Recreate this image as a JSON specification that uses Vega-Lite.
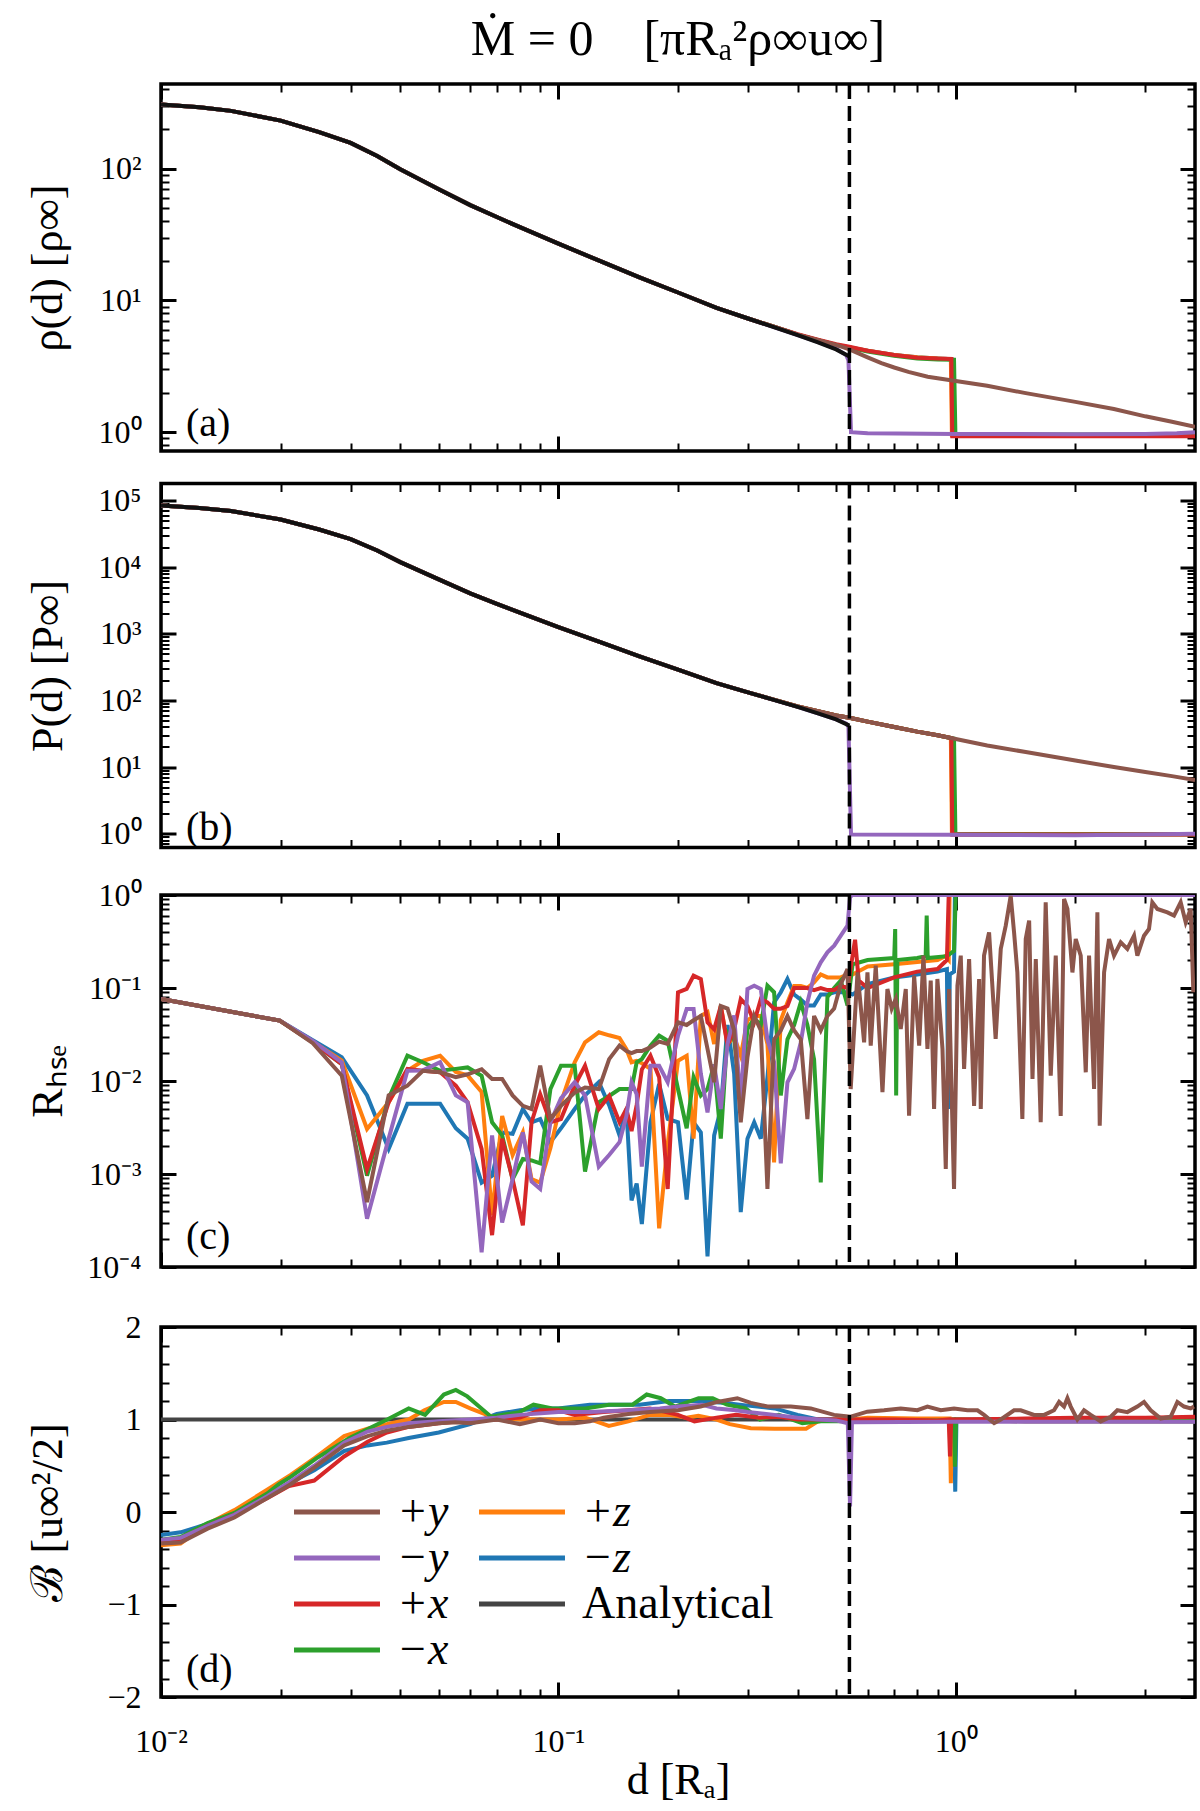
{
"$schema":"https://vega.github.io/schema/vega-lite/v6.json",
"padding":{"left":24,"top":13,"right":0,"bottom":0},
"config":{"font":"Liberation Serif","view":{"stroke":"black","strokeWidth":3.5},
"axis":{"grid":false,"domain":false,"tickColor":"black","labelColor":"black","titleColor":"black","labelFontSize":32,"titleFontSize":44,"titleFontWeight":"normal","labelFlush":false,"labelOverlap":false,"labelFont":"Liberation Serif","titleFont":"Liberation Serif"},
"title":{"font":"Liberation Serif","fontWeight":"normal","color":"black"},
"legend":{"labelFont":"Liberation Serif"}},
"datasets":{
"A":[
{"s":"−z","d":0.01,"v":307},{"s":"−z","d":0.0125,"v":293},{"s":"−z","d":0.015,"v":275},{"s":"−z","d":0.02,"v":232},{"s":"−z","d":0.025,"v":190},{"s":"−z","d":0.03,"v":157},{"s":"−z","d":0.035,"v":125},{"s":"−z","d":0.04,"v":99},{"s":"−z","d":0.05,"v":70},{"s":"−z","d":0.06,"v":53},{"s":"−z","d":0.07,"v":43},{"s":"−z","d":0.08,"v":36},{"s":"−z","d":0.1,"v":27},{"s":"−z","d":0.128,"v":19.8},{"s":"−z","d":0.16,"v":15},{"s":"−z","d":0.2,"v":11.5},{"s":"−z","d":0.25,"v":8.8},{"s":"−z","d":0.3,"v":7.3},{"s":"−z","d":0.35,"v":6.3},{"s":"−z","d":0.4,"v":5.5},
{"s":"−z","d":0.45,"v":5.0},{"s":"−z","d":0.5,"v":4.6},{"s":"−z","d":0.54,"v":4.4},{"s":"−z","d":0.6,"v":4.15},{"s":"−z","d":0.7,"v":3.85},{"s":"−z","d":0.8,"v":3.7},{"s":"−z","d":0.9,"v":3.62},{"s":"−z","d":0.975,"v":3.58},{"s":"−z","d":0.985,"v":0.95},{"s":"−z","d":2,"v":0.95},{"s":"−z","d":4,"v":0.95},
{"s":"+z","d":0.01,"v":307},{"s":"+z","d":0.0125,"v":293},{"s":"+z","d":0.015,"v":275},{"s":"+z","d":0.02,"v":232},{"s":"+z","d":0.025,"v":190},{"s":"+z","d":0.03,"v":157},{"s":"+z","d":0.035,"v":125},{"s":"+z","d":0.04,"v":99},{"s":"+z","d":0.05,"v":70},{"s":"+z","d":0.06,"v":53},{"s":"+z","d":0.07,"v":43},{"s":"+z","d":0.08,"v":36},{"s":"+z","d":0.1,"v":27},{"s":"+z","d":0.128,"v":19.8},{"s":"+z","d":0.16,"v":15},{"s":"+z","d":0.2,"v":11.5},{"s":"+z","d":0.25,"v":8.8},{"s":"+z","d":0.3,"v":7.3},{"s":"+z","d":0.35,"v":6.3},{"s":"+z","d":0.4,"v":5.5},
{"s":"+z","d":0.45,"v":5.0},{"s":"+z","d":0.5,"v":4.6},{"s":"+z","d":0.54,"v":4.4},{"s":"+z","d":0.6,"v":4.15},{"s":"+z","d":0.7,"v":3.85},{"s":"+z","d":0.8,"v":3.7},{"s":"+z","d":0.9,"v":3.62},{"s":"+z","d":0.972,"v":3.58},{"s":"+z","d":0.978,"v":0.95},{"s":"+z","d":2,"v":0.95},{"s":"+z","d":4,"v":0.95},
{"s":"−x","d":0.01,"v":307},{"s":"−x","d":0.0125,"v":293},{"s":"−x","d":0.015,"v":275},{"s":"−x","d":0.02,"v":232},{"s":"−x","d":0.025,"v":190},{"s":"−x","d":0.03,"v":157},{"s":"−x","d":0.035,"v":125},{"s":"−x","d":0.04,"v":99},{"s":"−x","d":0.05,"v":70},{"s":"−x","d":0.06,"v":53},{"s":"−x","d":0.07,"v":43},{"s":"−x","d":0.08,"v":36},{"s":"−x","d":0.1,"v":27},{"s":"−x","d":0.128,"v":19.8},{"s":"−x","d":0.16,"v":15},{"s":"−x","d":0.2,"v":11.5},{"s":"−x","d":0.25,"v":8.8},{"s":"−x","d":0.3,"v":7.3},{"s":"−x","d":0.35,"v":6.3},{"s":"−x","d":0.4,"v":5.5},
{"s":"−x","d":0.45,"v":5.0},{"s":"−x","d":0.5,"v":4.6},{"s":"−x","d":0.54,"v":4.4},{"s":"−x","d":0.6,"v":4.1},{"s":"−x","d":0.7,"v":3.8},{"s":"−x","d":0.8,"v":3.62},{"s":"−x","d":0.9,"v":3.57},{"s":"−x","d":0.99,"v":3.55},{"s":"−x","d":0.998,"v":0.96},{"s":"−x","d":2,"v":0.96},{"s":"−x","d":4,"v":0.96},
{"s":"+x","d":0.01,"v":307},{"s":"+x","d":0.0125,"v":293},{"s":"+x","d":0.015,"v":275},{"s":"+x","d":0.02,"v":232},{"s":"+x","d":0.025,"v":190},{"s":"+x","d":0.03,"v":157},{"s":"+x","d":0.035,"v":125},{"s":"+x","d":0.04,"v":99},{"s":"+x","d":0.05,"v":70},{"s":"+x","d":0.06,"v":53},{"s":"+x","d":0.07,"v":43},{"s":"+x","d":0.08,"v":36},{"s":"+x","d":0.1,"v":27},{"s":"+x","d":0.128,"v":19.8},{"s":"+x","d":0.16,"v":15},{"s":"+x","d":0.2,"v":11.5},{"s":"+x","d":0.25,"v":8.8},{"s":"+x","d":0.3,"v":7.3},{"s":"+x","d":0.35,"v":6.3},{"s":"+x","d":0.4,"v":5.55},
{"s":"+x","d":0.45,"v":5.05},{"s":"+x","d":0.5,"v":4.65},{"s":"+x","d":0.54,"v":4.45},{"s":"+x","d":0.6,"v":4.15},{"s":"+x","d":0.7,"v":3.85},{"s":"+x","d":0.8,"v":3.68},{"s":"+x","d":0.9,"v":3.62},{"s":"+x","d":0.975,"v":3.6},{"s":"+x","d":0.98,"v":0.93},{"s":"+x","d":2,"v":0.93},{"s":"+x","d":4,"v":0.93},
{"s":"−y","d":0.01,"v":307},{"s":"−y","d":0.0125,"v":293},{"s":"−y","d":0.015,"v":275},{"s":"−y","d":0.02,"v":232},{"s":"−y","d":0.025,"v":190},{"s":"−y","d":0.03,"v":157},{"s":"−y","d":0.035,"v":125},{"s":"−y","d":0.04,"v":99},{"s":"−y","d":0.05,"v":70},{"s":"−y","d":0.06,"v":53},{"s":"−y","d":0.07,"v":43},{"s":"−y","d":0.08,"v":36},{"s":"−y","d":0.1,"v":27},{"s":"−y","d":0.128,"v":19.8},{"s":"−y","d":0.16,"v":15},{"s":"−y","d":0.2,"v":11.5},{"s":"−y","d":0.25,"v":8.8},{"s":"−y","d":0.3,"v":7.3},{"s":"−y","d":0.35,"v":6.25},{"s":"−y","d":0.4,"v":5.45},
{"s":"−y","d":0.45,"v":4.85},{"s":"−y","d":0.5,"v":4.3},{"s":"−y","d":0.53,"v":3.85},{"s":"−y","d":0.537,"v":3.5},{"s":"−y","d":0.545,"v":1.0},{"s":"−y","d":0.6,"v":0.98},{"s":"−y","d":1,"v":0.97},{"s":"−y","d":2,"v":0.965},{"s":"−y","d":3,"v":0.97},{"s":"−y","d":3.6,"v":0.98},{"s":"−y","d":4,"v":1.0},
{"s":"+y","d":0.01,"v":307},{"s":"+y","d":0.0125,"v":293},{"s":"+y","d":0.015,"v":275},{"s":"+y","d":0.02,"v":232},{"s":"+y","d":0.025,"v":190},{"s":"+y","d":0.03,"v":157},{"s":"+y","d":0.035,"v":125},{"s":"+y","d":0.04,"v":99},{"s":"+y","d":0.05,"v":70},{"s":"+y","d":0.06,"v":53},{"s":"+y","d":0.07,"v":43},{"s":"+y","d":0.08,"v":36},{"s":"+y","d":0.1,"v":27},{"s":"+y","d":0.128,"v":19.8},{"s":"+y","d":0.16,"v":15},{"s":"+y","d":0.2,"v":11.5},{"s":"+y","d":0.25,"v":8.8},{"s":"+y","d":0.3,"v":7.3},{"s":"+y","d":0.35,"v":6.3},{"s":"+y","d":0.4,"v":5.5},
{"s":"+y","d":0.45,"v":5.0},{"s":"+y","d":0.5,"v":4.6},{"s":"+y","d":0.54,"v":4.25},{"s":"+y","d":0.6,"v":3.7},{"s":"+y","d":0.65,"v":3.35},{"s":"+y","d":0.7,"v":3.1},{"s":"+y","d":0.76,"v":2.87},{"s":"+y","d":0.85,"v":2.64},{"s":"+y","d":1.0,"v":2.45},{"s":"+y","d":1.2,"v":2.25},{"s":"+y","d":1.5,"v":1.98},{"s":"+y","d":2.0,"v":1.7},{"s":"+y","d":2.5,"v":1.5},{"s":"+y","d":3.0,"v":1.32},{"s":"+y","d":3.5,"v":1.2},{"s":"+y","d":4.0,"v":1.1},
{"s":"Analytical","d":0.01,"v":307},{"s":"Analytical","d":0.0125,"v":293},{"s":"Analytical","d":0.015,"v":275},{"s":"Analytical","d":0.02,"v":232},{"s":"Analytical","d":0.025,"v":190},{"s":"Analytical","d":0.03,"v":157},{"s":"Analytical","d":0.035,"v":125},{"s":"Analytical","d":0.04,"v":99},{"s":"Analytical","d":0.05,"v":70},{"s":"Analytical","d":0.06,"v":53},{"s":"Analytical","d":0.07,"v":43},{"s":"Analytical","d":0.08,"v":36},{"s":"Analytical","d":0.1,"v":27},{"s":"Analytical","d":0.128,"v":19.8},{"s":"Analytical","d":0.16,"v":15},{"s":"Analytical","d":0.2,"v":11.5},{"s":"Analytical","d":0.25,"v":8.8},{"s":"Analytical","d":0.3,"v":7.3},{"s":"Analytical","d":0.35,"v":6.25},{"s":"Analytical","d":0.4,"v":5.45},{"s":"Analytical","d":0.45,"v":4.8},{"s":"Analytical","d":0.5,"v":4.25},{"s":"Analytical","d":0.54,"v":3.75}
],
"B":[
{"s":"−z","d":0.01,"v":84000},{"s":"−z","d":0.0125,"v":77500},{"s":"−z","d":0.015,"v":69500},{"s":"−z","d":0.02,"v":51800},{"s":"−z","d":0.025,"v":36700},{"s":"−z","d":0.03,"v":26400},{"s":"−z","d":0.035,"v":17800},{"s":"−z","d":0.04,"v":11900},{"s":"−z","d":0.05,"v":6540},{"s":"−z","d":0.06,"v":4050},{"s":"−z","d":0.07,"v":2820},{"s":"−z","d":0.08,"v":2080},{"s":"−z","d":0.1,"v":1263},{"s":"−z","d":0.128,"v":740},{"s":"−z","d":0.16,"v":458},{"s":"−z","d":0.2,"v":289},{"s":"−z","d":0.25,"v":182},{"s":"−z","d":0.3,"v":132},{"s":"−z","d":0.35,"v":102},{"s":"−z","d":0.4,"v":81},
{"s":"−z","d":0.45,"v":68.6},{"s":"−z","d":0.5,"v":59.5},{"s":"−z","d":0.54,"v":55},{"s":"−z","d":0.6,"v":48},{"s":"−z","d":0.7,"v":40},{"s":"−z","d":0.8,"v":34},{"s":"−z","d":0.9,"v":30},{"s":"−z","d":0.975,"v":27.2},{"s":"−z","d":0.985,"v":0.98},{"s":"−z","d":4,"v":0.98},
{"s":"+z","d":0.01,"v":84000},{"s":"+z","d":0.0125,"v":77500},{"s":"+z","d":0.015,"v":69500},{"s":"+z","d":0.02,"v":51800},{"s":"+z","d":0.025,"v":36700},{"s":"+z","d":0.03,"v":26400},{"s":"+z","d":0.035,"v":17800},{"s":"+z","d":0.04,"v":11900},{"s":"+z","d":0.05,"v":6540},{"s":"+z","d":0.06,"v":4050},{"s":"+z","d":0.07,"v":2820},{"s":"+z","d":0.08,"v":2080},{"s":"+z","d":0.1,"v":1263},{"s":"+z","d":0.128,"v":740},{"s":"+z","d":0.16,"v":458},{"s":"+z","d":0.2,"v":289},{"s":"+z","d":0.25,"v":182},{"s":"+z","d":0.3,"v":132},{"s":"+z","d":0.35,"v":102},{"s":"+z","d":0.4,"v":81},
{"s":"+z","d":0.45,"v":68.6},{"s":"+z","d":0.5,"v":59.5},{"s":"+z","d":0.54,"v":55},{"s":"+z","d":0.6,"v":48},{"s":"+z","d":0.7,"v":40},{"s":"+z","d":0.8,"v":34},{"s":"+z","d":0.9,"v":30},{"s":"+z","d":0.972,"v":27.3},{"s":"+z","d":0.978,"v":0.98},{"s":"+z","d":4,"v":0.98},
{"s":"−x","d":0.01,"v":84000},{"s":"−x","d":0.0125,"v":77500},{"s":"−x","d":0.015,"v":69500},{"s":"−x","d":0.02,"v":51800},{"s":"−x","d":0.025,"v":36700},{"s":"−x","d":0.03,"v":26400},{"s":"−x","d":0.035,"v":17800},{"s":"−x","d":0.04,"v":11900},{"s":"−x","d":0.05,"v":6540},{"s":"−x","d":0.06,"v":4050},{"s":"−x","d":0.07,"v":2820},{"s":"−x","d":0.08,"v":2080},{"s":"−x","d":0.1,"v":1263},{"s":"−x","d":0.128,"v":740},{"s":"−x","d":0.16,"v":458},{"s":"−x","d":0.2,"v":289},{"s":"−x","d":0.25,"v":182},{"s":"−x","d":0.3,"v":132},{"s":"−x","d":0.35,"v":102},{"s":"−x","d":0.4,"v":81},
{"s":"−x","d":0.45,"v":68.6},{"s":"−x","d":0.5,"v":59.5},{"s":"−x","d":0.54,"v":55},{"s":"−x","d":0.6,"v":48},{"s":"−x","d":0.7,"v":40},{"s":"−x","d":0.8,"v":34},{"s":"−x","d":0.9,"v":30},{"s":"−x","d":0.99,"v":26.6},{"s":"−x","d":0.998,"v":0.98},{"s":"−x","d":4,"v":0.98},
{"s":"+x","d":0.01,"v":84000},{"s":"+x","d":0.0125,"v":77500},{"s":"+x","d":0.015,"v":69500},{"s":"+x","d":0.02,"v":51800},{"s":"+x","d":0.025,"v":36700},{"s":"+x","d":0.03,"v":26400},{"s":"+x","d":0.035,"v":17800},{"s":"+x","d":0.04,"v":11900},{"s":"+x","d":0.05,"v":6540},{"s":"+x","d":0.06,"v":4050},{"s":"+x","d":0.07,"v":2820},{"s":"+x","d":0.08,"v":2080},{"s":"+x","d":0.1,"v":1263},{"s":"+x","d":0.128,"v":740},{"s":"+x","d":0.16,"v":458},{"s":"+x","d":0.2,"v":289},{"s":"+x","d":0.25,"v":182},{"s":"+x","d":0.3,"v":132},{"s":"+x","d":0.35,"v":102},{"s":"+x","d":0.4,"v":81},
{"s":"+x","d":0.45,"v":68.6},{"s":"+x","d":0.5,"v":59.5},{"s":"+x","d":0.54,"v":55},{"s":"+x","d":0.6,"v":48},{"s":"+x","d":0.7,"v":40},{"s":"+x","d":0.8,"v":34},{"s":"+x","d":0.9,"v":30},{"s":"+x","d":0.975,"v":27.2},{"s":"+x","d":0.98,"v":0.97},{"s":"+x","d":4,"v":0.97},
{"s":"−y","d":0.01,"v":84000},{"s":"−y","d":0.0125,"v":77500},{"s":"−y","d":0.015,"v":69500},{"s":"−y","d":0.02,"v":51800},{"s":"−y","d":0.025,"v":36700},{"s":"−y","d":0.03,"v":26400},{"s":"−y","d":0.035,"v":17800},{"s":"−y","d":0.04,"v":11900},{"s":"−y","d":0.05,"v":6540},{"s":"−y","d":0.06,"v":4050},{"s":"−y","d":0.07,"v":2820},{"s":"−y","d":0.08,"v":2080},{"s":"−y","d":0.1,"v":1263},{"s":"−y","d":0.128,"v":740},{"s":"−y","d":0.16,"v":458},{"s":"−y","d":0.2,"v":289},{"s":"−y","d":0.25,"v":182},{"s":"−y","d":0.3,"v":132},{"s":"−y","d":0.35,"v":101},{"s":"−y","d":0.4,"v":80},
{"s":"−y","d":0.45,"v":64},{"s":"−y","d":0.5,"v":52},{"s":"−y","d":0.53,"v":45},{"s":"−y","d":0.537,"v":40},{"s":"−y","d":0.545,"v":0.97},{"s":"−y","d":1,"v":0.96},{"s":"−y","d":2,"v":0.95},{"s":"−y","d":3,"v":0.97},{"s":"−y","d":4,"v":1.0},
{"s":"+y","d":0.01,"v":84000},{"s":"+y","d":0.0125,"v":77500},{"s":"+y","d":0.015,"v":69500},{"s":"+y","d":0.02,"v":51800},{"s":"+y","d":0.025,"v":36700},{"s":"+y","d":0.03,"v":26400},{"s":"+y","d":0.035,"v":17800},{"s":"+y","d":0.04,"v":11900},{"s":"+y","d":0.05,"v":6540},{"s":"+y","d":0.06,"v":4050},{"s":"+y","d":0.07,"v":2820},{"s":"+y","d":0.08,"v":2080},{"s":"+y","d":0.1,"v":1263},{"s":"+y","d":0.128,"v":740},{"s":"+y","d":0.16,"v":458},{"s":"+y","d":0.2,"v":289},{"s":"+y","d":0.25,"v":182},{"s":"+y","d":0.3,"v":132},{"s":"+y","d":0.35,"v":102},{"s":"+y","d":0.4,"v":81},
{"s":"+y","d":0.45,"v":68.6},{"s":"+y","d":0.5,"v":59.5},{"s":"+y","d":0.54,"v":55},{"s":"+y","d":0.6,"v":48},{"s":"+y","d":0.7,"v":40},{"s":"+y","d":0.8,"v":34},{"s":"+y","d":0.9,"v":30},{"s":"+y","d":1.0,"v":26.3},{"s":"+y","d":1.2,"v":21},{"s":"+y","d":1.5,"v":16.8},{"s":"+y","d":2,"v":12.5},{"s":"+y","d":2.5,"v":10},{"s":"+y","d":3,"v":8.4},{"s":"+y","d":3.5,"v":7.3},{"s":"+y","d":4,"v":6.4},
{"s":"Analytical","d":0.01,"v":84000},{"s":"Analytical","d":0.0125,"v":77500},{"s":"Analytical","d":0.015,"v":69500},{"s":"Analytical","d":0.02,"v":51800},{"s":"Analytical","d":0.025,"v":36700},{"s":"Analytical","d":0.03,"v":26400},{"s":"Analytical","d":0.035,"v":17800},{"s":"Analytical","d":0.04,"v":11900},{"s":"Analytical","d":0.05,"v":6540},{"s":"Analytical","d":0.06,"v":4050},{"s":"Analytical","d":0.07,"v":2820},{"s":"Analytical","d":0.08,"v":2080},{"s":"Analytical","d":0.1,"v":1263},{"s":"Analytical","d":0.128,"v":740},{"s":"Analytical","d":0.16,"v":458},{"s":"Analytical","d":0.2,"v":289},{"s":"Analytical","d":0.25,"v":182},{"s":"Analytical","d":0.3,"v":132},{"s":"Analytical","d":0.35,"v":101},{"s":"Analytical","d":0.4,"v":80},{"s":"Analytical","d":0.45,"v":64},{"s":"Analytical","d":0.5,"v":51.8},{"s":"Analytical","d":0.54,"v":41.8}
],
"C":[
{"s":"−z","d":0.01,"v":0.0762},{"s":"−z","d":0.0199,"v":0.0446},{"s":"−z","d":0.0241,"v":0.0275},{"s":"−z","d":0.0285,"v":0.018},{"s":"−z","d":0.033,"v":0.007},{"s":"−z","d":0.0374,"v":0.00186},{"s":"−z","d":0.0417,"v":0.0057},{"s":"−z","d":0.0456,"v":0.0057},{"s":"−z","d":0.0504,"v":0.0057},{"s":"−z","d":0.0552,"v":0.0031},{"s":"−z","d":0.0591,"v":0.0024},{"s":"−z","d":0.0641,"v":0.00081},{"s":"−z","d":0.0681,"v":0.00096},{"s":"−z","d":0.0722,"v":0.0028},{"s":"−z","d":0.0767,"v":0.0027},{"s":"−z","d":0.0814,"v":0.005},{"s":"−z","d":0.0856,"v":0.0036},{"s":"−z","d":0.09,"v":0.0039},{"s":"−z","d":0.0955,"v":0.0022},{"s":"−z","d":0.1015,"v":0.0031},{"s":"−z","d":0.1099,"v":0.005},{"s":"−z","d":0.1167,"v":0.007},{"s":"−z","d":0.1264,"v":0.0097},{"s":"−z","d":0.1342,"v":0.0055},{"s":"−z","d":0.1425,"v":0.0026},{"s":"−z","d":0.1483,"v":0.005},{"s":"−z","d":0.1528,"v":0.00052},{"s":"−z","d":0.1574,"v":0.00079},{"s":"−z","d":0.1622,"v":0.00029},{"s":"−z","d":0.1705,"v":0.0036},{"s":"−z","d":0.1793,"v":0.0093},{"s":"−z","d":0.1884,"v":0.0039},{"s":"−z","d":0.2,"v":0.0036},{"s":"−z","d":0.2103,"v":0.00053},{"s":"−z","d":0.2189,"v":0.0036},{"s":"−z","d":0.2283,"v":0.0028},{"s":"−z","d":0.2373,"v":0.00013},{"s":"−z","d":0.2466,"v":0.0026},{"s":"−z","d":0.2563,"v":0.005},{"s":"−z","d":0.2665,"v":0.04},{"s":"−z","d":0.2769,"v":0.012},{"s":"−z","d":0.2877,"v":0.00039},{"s":"−z","d":0.2991,"v":0.0024},{"s":"−z","d":0.311,"v":0.0036},{"s":"−z","d":0.3232,"v":0.0024},{"s":"−z","d":0.3358,"v":0.011},{"s":"−z","d":0.349,"v":0.07},{"s":"−z","d":0.3628,"v":0.09},{"s":"−z","d":0.3771,"v":0.125},{"s":"−z","d":0.392,"v":0.085},{"s":"−z","d":0.4074,"v":0.075},{"s":"−z","d":0.4233,"v":0.065},{"s":"−z","d":0.44,"v":0.065},{"s":"−z","d":0.4574,"v":0.085},{"s":"−z","d":0.4754,"v":0.085},{"s":"−z","d":0.4943,"v":0.09},{"s":"−z","d":0.5137,"v":0.09},{"s":"−z","d":0.534,"v":0.09},{"s":"−z","d":0.55,"v":0.085},{"s":"−z","d":0.6,"v":0.11},{"s":"−z","d":0.65,"v":0.12},{"s":"−z","d":0.7,"v":0.13},{"s":"−z","d":0.8,"v":0.14},{"s":"−z","d":0.9,"v":0.15},{"s":"−z","d":0.95,"v":0.16},{"s":"−z","d":0.958,"v":0.005},{"s":"−z","d":0.966,"v":0.14},{"s":"−z","d":0.99,"v":0.15},{"s":"−z","d":0.995,"v":1},{"s":"−z","d":4,"v":1},
{"s":"+z","d":0.01,"v":0.0762},{"s":"+z","d":0.0199,"v":0.0446},{"s":"+z","d":0.0241,"v":0.0265},{"s":"+z","d":0.0285,"v":0.0166},{"s":"+z","d":0.033,"v":0.00305},{"s":"+z","d":0.0374,"v":0.0059},{"s":"+z","d":0.0417,"v":0.0129},{"s":"+z","d":0.0456,"v":0.0165},{"s":"+z","d":0.0504,"v":0.0187},{"s":"+z","d":0.0552,"v":0.0125},{"s":"+z","d":0.0591,"v":0.0115},{"s":"+z","d":0.0641,"v":0.0076},{"s":"+z","d":0.0681,"v":0.00036},{"s":"+z","d":0.0722,"v":0.0042},{"s":"+z","d":0.0767,"v":0.0016},{"s":"+z","d":0.0814,"v":0.0028},{"s":"+z","d":0.0856,"v":0.00088},{"s":"+z","d":0.09,"v":0.00081},{"s":"+z","d":0.0955,"v":0.0019},{"s":"+z","d":0.1015,"v":0.0059},{"s":"+z","d":0.1099,"v":0.0159},{"s":"+z","d":0.1167,"v":0.026},{"s":"+z","d":0.1264,"v":0.0334},{"s":"+z","d":0.1342,"v":0.031},{"s":"+z","d":0.1425,"v":0.029},{"s":"+z","d":0.1483,"v":0.022},{"s":"+z","d":0.1528,"v":0.0159},{"s":"+z","d":0.1574,"v":0.0165},{"s":"+z","d":0.1622,"v":0.0155},{"s":"+z","d":0.1705,"v":0.0135},{"s":"+z","d":0.1793,"v":0.00026},{"s":"+z","d":0.1884,"v":0.0021},{"s":"+z","d":0.2,"v":0.0165},{"s":"+z","d":0.2103,"v":0.0187},{"s":"+z","d":0.2189,"v":0.0024},{"s":"+z","d":0.2283,"v":0.05},{"s":"+z","d":0.2373,"v":0.055},{"s":"+z","d":0.2466,"v":0.025},{"s":"+z","d":0.2563,"v":0.0645},{"s":"+z","d":0.2665,"v":0.025},{"s":"+z","d":0.2769,"v":0.03},{"s":"+z","d":0.2877,"v":0.0187},{"s":"+z","d":0.2991,"v":0.045},{"s":"+z","d":0.311,"v":0.05},{"s":"+z","d":0.3232,"v":0.05},{"s":"+z","d":0.3358,"v":0.025},{"s":"+z","d":0.349,"v":0.00133},{"s":"+z","d":0.3628,"v":0.045},{"s":"+z","d":0.3771,"v":0.07},{"s":"+z","d":0.392,"v":0.105},{"s":"+z","d":0.4074,"v":0.105},{"s":"+z","d":0.4233,"v":0.1},{"s":"+z","d":0.44,"v":0.115},{"s":"+z","d":0.4574,"v":0.14},{"s":"+z","d":0.4754,"v":0.13},{"s":"+z","d":0.4943,"v":0.13},{"s":"+z","d":0.5137,"v":0.13},{"s":"+z","d":0.534,"v":0.14},{"s":"+z","d":0.55,"v":0.14},{"s":"+z","d":0.6,"v":0.17},{"s":"+z","d":0.7,"v":0.18},{"s":"+z","d":0.8,"v":0.19},{"s":"+z","d":0.9,"v":0.2},{"s":"+z","d":0.94,"v":0.22},{"s":"+z","d":0.96,"v":0.2},{"s":"+z","d":0.965,"v":1},{"s":"+z","d":4,"v":1},
{"s":"−x","d":0.01,"v":0.0762},{"s":"−x","d":0.0199,"v":0.0446},{"s":"−x","d":0.0241,"v":0.026},{"s":"−x","d":0.0285,"v":0.0152},{"s":"−x","d":0.033,"v":0.00096},{"s":"−x","d":0.0374,"v":0.0065},{"s":"−x","d":0.0417,"v":0.0187},{"s":"−x","d":0.0456,"v":0.0159},{"s":"−x","d":0.0504,"v":0.0129},{"s":"−x","d":0.0552,"v":0.0135},{"s":"−x","d":0.0591,"v":0.014},{"s":"−x","d":0.0641,"v":0.0114},{"s":"−x","d":0.0681,"v":0.0036},{"s":"−x","d":0.0722,"v":0.0026},{"s":"−x","d":0.0767,"v":0.00088},{"s":"−x","d":0.0814,"v":0.00145},{"s":"−x","d":0.0856,"v":0.0014},{"s":"−x","d":0.09,"v":0.0013},{"s":"−x","d":0.0955,"v":0.0082},{"s":"−x","d":0.1015,"v":0.0146},{"s":"−x","d":0.1099,"v":0.0146},{"s":"−x","d":0.1167,"v":0.00106},{"s":"−x","d":0.1264,"v":0.0059},{"s":"−x","d":0.1342,"v":0.0069},{"s":"−x","d":0.1425,"v":0.0082},{"s":"−x","d":0.1483,"v":0.0082},{"s":"−x","d":0.1528,"v":0.0082},{"s":"−x","d":0.1574,"v":0.0159},{"s":"−x","d":0.1622,"v":0.0172},{"s":"−x","d":0.1705,"v":0.024},{"s":"−x","d":0.1793,"v":0.0307},{"s":"−x","d":0.1884,"v":0.027},{"s":"−x","d":0.2,"v":0.0082},{"s":"−x","d":0.2103,"v":0.0031},{"s":"−x","d":0.2189,"v":0.011},{"s":"−x","d":0.2283,"v":0.007},{"s":"−x","d":0.2373,"v":0.0082},{"s":"−x","d":0.2466,"v":0.015},{"s":"−x","d":0.2563,"v":0.0024},{"s":"−x","d":0.2665,"v":0.0334},{"s":"−x","d":0.2769,"v":0.028},{"s":"−x","d":0.2877,"v":0.007},{"s":"−x","d":0.2991,"v":0.036},{"s":"−x","d":0.311,"v":0.047},{"s":"−x","d":0.3232,"v":0.04},{"s":"−x","d":0.3358,"v":0.106},{"s":"−x","d":0.349,"v":0.09},{"s":"−x","d":0.3628,"v":0.007},{"s":"−x","d":0.3771,"v":0.028},{"s":"−x","d":0.392,"v":0.04},{"s":"−x","d":0.4074,"v":0.07},{"s":"−x","d":0.4233,"v":0.04},{"s":"−x","d":0.44,"v":0.017},{"s":"−x","d":0.4574,"v":0.00081},{"s":"−x","d":0.4754,"v":0.08},{"s":"−x","d":0.4943,"v":0.1},{"s":"−x","d":0.5137,"v":0.12},{"s":"−x","d":0.534,"v":0.065},{"s":"−x","d":0.55,"v":0.18},{"s":"−x","d":0.6,"v":0.2},{"s":"−x","d":0.7,"v":0.21},{"s":"−x","d":0.704,"v":0.43},{"s":"−x","d":0.708,"v":0.007},{"s":"−x","d":0.713,"v":0.2},{"s":"−x","d":0.8,"v":0.21},{"s":"−x","d":0.84,"v":0.22},{"s":"−x","d":0.845,"v":0.6},{"s":"−x","d":0.85,"v":0.21},{"s":"−x","d":0.95,"v":0.22},{"s":"−x","d":0.99,"v":0.25},{"s":"−x","d":1.0,"v":1},{"s":"−x","d":4,"v":1},
{"s":"+x","d":0.01,"v":0.0762},{"s":"+x","d":0.0199,"v":0.0446},{"s":"+x","d":0.0241,"v":0.026},{"s":"+x","d":0.0285,"v":0.0152},{"s":"+x","d":0.033,"v":0.00113},{"s":"+x","d":0.0374,"v":0.0059},{"s":"+x","d":0.0417,"v":0.0135},{"s":"+x","d":0.0456,"v":0.0129},{"s":"+x","d":0.0504,"v":0.0124},{"s":"+x","d":0.0552,"v":0.0089},{"s":"+x","d":0.0591,"v":0.0059},{"s":"+x","d":0.0641,"v":0.00186},{"s":"+x","d":0.0681,"v":0.00022},{"s":"+x","d":0.0722,"v":0.0024},{"s":"+x","d":0.0767,"v":0.00088},{"s":"+x","d":0.0814,"v":0.00028},{"s":"+x","d":0.0856,"v":0.0036},{"s":"+x","d":0.09,"v":0.0072},{"s":"+x","d":0.0955,"v":0.0036},{"s":"+x","d":0.1015,"v":0.0039},{"s":"+x","d":0.1099,"v":0.0089},{"s":"+x","d":0.1167,"v":0.0146},{"s":"+x","d":0.1264,"v":0.005},{"s":"+x","d":0.1342,"v":0.0069},{"s":"+x","d":0.1425,"v":0.0036},{"s":"+x","d":0.1483,"v":0.005},{"s":"+x","d":0.1528,"v":0.0029},{"s":"+x","d":0.1574,"v":0.0055},{"s":"+x","d":0.1622,"v":0.0133},{"s":"+x","d":0.1705,"v":0.0187},{"s":"+x","d":0.1793,"v":0.011},{"s":"+x","d":0.1884,"v":0.00069},{"s":"+x","d":0.2,"v":0.0898},{"s":"+x","d":0.2103,"v":0.098},{"s":"+x","d":0.2189,"v":0.136},{"s":"+x","d":0.2283,"v":0.125},{"s":"+x","d":0.2373,"v":0.0428},{"s":"+x","d":0.2466,"v":0.036},{"s":"+x","d":0.2563,"v":0.064},{"s":"+x","d":0.2665,"v":0.024},{"s":"+x","d":0.2769,"v":0.036},{"s":"+x","d":0.2877,"v":0.076},{"s":"+x","d":0.2991,"v":0.064},{"s":"+x","d":0.311,"v":0.043},{"s":"+x","d":0.3232,"v":0.076},{"s":"+x","d":0.3358,"v":0.07},{"s":"+x","d":0.349,"v":0.06},{"s":"+x","d":0.3628,"v":0.06},{"s":"+x","d":0.3771,"v":0.064},{"s":"+x","d":0.392,"v":0.1},{"s":"+x","d":0.4074,"v":0.1},{"s":"+x","d":0.4233,"v":0.1},{"s":"+x","d":0.44,"v":0.095},{"s":"+x","d":0.4574,"v":0.1},{"s":"+x","d":0.4754,"v":0.095},{"s":"+x","d":0.4943,"v":0.095},{"s":"+x","d":0.5137,"v":0.105},{"s":"+x","d":0.534,"v":0.1},{"s":"+x","d":0.558,"v":0.33},{"s":"+x","d":0.57,"v":0.12},{"s":"+x","d":0.6,"v":0.1},{"s":"+x","d":0.7,"v":0.13},{"s":"+x","d":0.8,"v":0.15},{"s":"+x","d":0.9,"v":0.16},{"s":"+x","d":0.95,"v":0.2},{"s":"+x","d":0.96,"v":1},{"s":"+x","d":4,"v":1},
{"s":"−y","d":0.01,"v":0.0762},{"s":"−y","d":0.0199,"v":0.0446},{"s":"−y","d":0.0241,"v":0.027},{"s":"−y","d":0.0285,"v":0.0159},{"s":"−y","d":0.033,"v":0.00033},{"s":"−y","d":0.0374,"v":0.0024},{"s":"−y","d":0.0417,"v":0.0129},{"s":"−y","d":0.0456,"v":0.013},{"s":"−y","d":0.0504,"v":0.0159},{"s":"−y","d":0.0552,"v":0.007},{"s":"−y","d":0.0591,"v":0.0059},{"s":"−y","d":0.0641,"v":0.000144},{"s":"−y","d":0.0681,"v":0.0026},{"s":"−y","d":0.0722,"v":0.0003},{"s":"−y","d":0.0767,"v":0.00088},{"s":"−y","d":0.0814,"v":0.0028},{"s":"−y","d":0.0856,"v":0.00083},{"s":"−y","d":0.09,"v":0.00069},{"s":"−y","d":0.0955,"v":0.0036},{"s":"−y","d":0.1015,"v":0.0065},{"s":"−y","d":0.1099,"v":0.0097},{"s":"−y","d":0.1167,"v":0.007},{"s":"−y","d":0.1264,"v":0.0012},{"s":"−y","d":0.1342,"v":0.0016},{"s":"−y","d":0.1425,"v":0.0022},{"s":"−y","d":0.1483,"v":0.0042},{"s":"−y","d":0.1528,"v":0.0097},{"s":"−y","d":0.1574,"v":0.0072},{"s":"−y","d":0.1622,"v":0.0012},{"s":"−y","d":0.1705,"v":0.0146},{"s":"−y","d":0.1793,"v":0.0146},{"s":"−y","d":0.1884,"v":0.0097},{"s":"−y","d":0.2,"v":0.0307},{"s":"−y","d":0.2103,"v":0.0594},{"s":"−y","d":0.2189,"v":0.0594},{"s":"−y","d":0.2283,"v":0.012},{"s":"−y","d":0.2373,"v":0.0046},{"s":"−y","d":0.2466,"v":0.015},{"s":"−y","d":0.2563,"v":0.005},{"s":"−y","d":0.2665,"v":0.025},{"s":"−y","d":0.2769,"v":0.0506},{"s":"−y","d":0.2877,"v":0.0055},{"s":"−y","d":0.2991,"v":0.0975},{"s":"−y","d":0.311,"v":0.106},{"s":"−y","d":0.3232,"v":0.0975},{"s":"−y","d":0.3358,"v":0.028},{"s":"−y","d":0.349,"v":0.016},{"s":"−y","d":0.3628,"v":0.0013},{"s":"−y","d":0.3771,"v":0.0097},{"s":"−y","d":0.392,"v":0.0135},{"s":"−y","d":0.4074,"v":0.026},{"s":"−y","d":0.4233,"v":0.07},{"s":"−y","d":0.44,"v":0.136},{"s":"−y","d":0.4574,"v":0.189},{"s":"−y","d":0.4754,"v":0.242},{"s":"−y","d":0.4943,"v":0.285},{"s":"−y","d":0.5137,"v":0.365},{"s":"−y","d":0.534,"v":0.468},{"s":"−y","d":0.542,"v":0.95},{"s":"−y","d":0.55,"v":1},{"s":"−y","d":4,"v":1},
{"s":"+y","d":0.01,"v":0.0762},{"s":"+y","d":0.0199,"v":0.0446},{"s":"+y","d":0.0241,"v":0.0255},{"s":"+y","d":0.0285,"v":0.0114},{"s":"+y","d":0.033,"v":0.0005},{"s":"+y","d":0.0374,"v":0.007},{"s":"+y","d":0.0417,"v":0.0089},{"s":"+y","d":0.0456,"v":0.0129},{"s":"+y","d":0.0504,"v":0.0124},{"s":"+y","d":0.0552,"v":0.011},{"s":"+y","d":0.0591,"v":0.0118},{"s":"+y","d":0.0641,"v":0.0134},{"s":"+y","d":0.0681,"v":0.0105},{"s":"+y","d":0.0722,"v":0.0105},{"s":"+y","d":0.0767,"v":0.007},{"s":"+y","d":0.0814,"v":0.0054},{"s":"+y","d":0.0856,"v":0.005},{"s":"+y","d":0.09,"v":0.0146},{"s":"+y","d":0.0955,"v":0.0039},{"s":"+y","d":0.1015,"v":0.0054},{"s":"+y","d":0.1099,"v":0.0075},{"s":"+y","d":0.1167,"v":0.0085},{"s":"+y","d":0.1264,"v":0.0082},{"s":"+y","d":0.1342,"v":0.0172},{"s":"+y","d":0.1425,"v":0.024},{"s":"+y","d":0.1483,"v":0.021},{"s":"+y","d":0.1528,"v":0.02},{"s":"+y","d":0.1574,"v":0.021},{"s":"+y","d":0.1622,"v":0.021},{"s":"+y","d":0.1705,"v":0.023},{"s":"+y","d":0.1793,"v":0.0265},{"s":"+y","d":0.1884,"v":0.025},{"s":"+y","d":0.2,"v":0.0428},{"s":"+y","d":0.2103,"v":0.04},{"s":"+y","d":0.2189,"v":0.045},{"s":"+y","d":0.2283,"v":0.05},{"s":"+y","d":0.2373,"v":0.0221},{"s":"+y","d":0.2466,"v":0.0097},{"s":"+y","d":0.2563,"v":0.064},{"s":"+y","d":0.2665,"v":0.06},{"s":"+y","d":0.2769,"v":0.035},{"s":"+y","d":0.2877,"v":0.0036},{"s":"+y","d":0.2991,"v":0.018},{"s":"+y","d":0.311,"v":0.05},{"s":"+y","d":0.3232,"v":0.035},{"s":"+y","d":0.3358,"v":0.00069},{"s":"+y","d":0.349,"v":0.028},{"s":"+y","d":0.3628,"v":0.035},{"s":"+y","d":0.3771,"v":0.05},{"s":"+y","d":0.392,"v":0.035},{"s":"+y","d":0.4074,"v":0.028},{"s":"+y","d":0.4233,"v":0.0039},{"s":"+y","d":0.44,"v":0.05},{"s":"+y","d":0.4574,"v":0.035},{"s":"+y","d":0.4754,"v":0.05},{"s":"+y","d":0.4943,"v":0.06},{"s":"+y","d":0.5137,"v":0.11},{"s":"+y","d":0.534,"v":0.16},{"s":"+y","d":0.544,"v":0.0082},{"s":"+y","d":0.566,"v":0.147},{"s":"+y","d":0.588,"v":0.026},{"s":"+y","d":0.5995,"v":0.147},{"s":"+y","d":0.611,"v":0.024},{"s":"+y","d":0.629,"v":0.174},{"s":"+y","d":0.654,"v":0.0076},{"s":"+y","d":0.673,"v":0.0975},{"s":"+y","d":0.69,"v":0.06},{"s":"+y","d":0.7066,"v":0.0762},{"s":"+y","d":0.727,"v":0.0362},{"s":"+y","d":0.7486,"v":0.0975},{"s":"+y","d":0.763,"v":0.00424},{"s":"+y","d":0.7857,"v":0.136},{"s":"+y","d":0.809,"v":0.024},{"s":"+y","d":0.8293,"v":0.223},{"s":"+y","d":0.8487,"v":0.0221},{"s":"+y","d":0.865,"v":0.12},{"s":"+y","d":0.882,"v":0.005},{"s":"+y","d":0.899,"v":0.125},{"s":"+y","d":0.926,"v":0.0221},{"s":"+y","d":0.9438,"v":0.00113},{"s":"+y","d":0.962,"v":0.0975},{"s":"+y","d":0.99,"v":0.00069},{"s":"+y","d":1.0097,"v":0.106},{"s":"+y","d":1.0294,"v":0.223},{"s":"+y","d":1.0495,"v":0.0135},{"s":"+y","d":1.0804,"v":0.205},{"s":"+y","d":1.112,"v":0.0054},{"s":"+y","d":1.145,"v":0.125},{"s":"+y","d":1.156,"v":0.005},{"s":"+y","d":1.178,"v":0.223},{"s":"+y","d":1.213,"v":0.397},{"s":"+y","d":1.26,"v":0.0283},{"s":"+y","d":1.298,"v":0.263},{"s":"+y","d":1.336,"v":0.468},{"s":"+y","d":1.375,"v":0.98},{"s":"+y","d":1.402,"v":0.397},{"s":"+y","d":1.429,"v":0.147},{"s":"+y","d":1.471,"v":0.0039},{"s":"+y","d":1.5,"v":0.336},{"s":"+y","d":1.53,"v":0.53},{"s":"+y","d":1.56,"v":0.0105},{"s":"+y","d":1.59,"v":0.205},{"s":"+y","d":1.636,"v":0.0036},{"s":"+y","d":1.684,"v":0.834},{"s":"+y","d":1.734,"v":0.0114},{"s":"+y","d":1.785,"v":0.223},{"s":"+y","d":1.837,"v":0.0042},{"s":"+y","d":1.873,"v":0.906},{"s":"+y","d":1.91,"v":0.707},{"s":"+y","d":1.966,"v":0.147},{"s":"+y","d":2.004,"v":0.336},{"s":"+y","d":2.063,"v":0.223},{"s":"+y","d":2.124,"v":0.0124},{"s":"+y","d":2.165,"v":0.223},{"s":"+y","d":2.229,"v":0.0082},{"s":"+y","d":2.272,"v":0.651},{"s":"+y","d":2.303,"v":0.0033},{"s":"+y","d":2.362,"v":0.147},{"s":"+y","d":2.431,"v":0.336},{"s":"+y","d":2.502,"v":0.223},{"s":"+y","d":2.601,"v":0.31},{"s":"+y","d":2.703,"v":0.263},{"s":"+y","d":2.81,"v":0.365},{"s":"+y","d":2.864,"v":0.223},{"s":"+y","d":2.977,"v":0.365},{"s":"+y","d":3.064,"v":0.431},{"s":"+y","d":3.124,"v":0.834},{"s":"+y","d":3.216,"v":0.707},{"s":"+y","d":3.409,"v":0.651},{"s":"+y","d":3.542,"v":0.6},{"s":"+y","d":3.681,"v":0.834},{"s":"+y","d":3.79,"v":0.508},{"s":"+y","d":3.901,"v":0.707},{"s":"+y","d":3.962,"v":0.09}
],
"D":[
{"s":"Analytical","d":0.01,"v":1},{"s":"Analytical","d":4,"v":1},
{"s":"−z","d":0.01,"v":-0.25},{"s":"−z","d":0.0112,"v":-0.22},{"s":"−z","d":0.0131,"v":-0.13},{"s":"−z","d":0.0153,"v":-0.02},{"s":"−z","d":0.0185,"v":0.18},{"s":"−z","d":0.0212,"v":0.32},{"s":"−z","d":0.0243,"v":0.45},{"s":"−z","d":0.0289,"v":0.66},{"s":"−z","d":0.0331,"v":0.72},{"s":"−z","d":0.037,"v":0.75},{"s":"−z","d":0.042,"v":0.8},{"s":"−z","d":0.05,"v":0.86},{"s":"−z","d":0.06,"v":0.95},{"s":"−z","d":0.07,"v":1.06},{"s":"−z","d":0.08,"v":1.1},{"s":"−z","d":0.09,"v":1.12},{"s":"−z","d":0.1,"v":1.12},{"s":"−z","d":0.12,"v":1.16},{"s":"−z","d":0.14,"v":1.16},{"s":"−z","d":0.16,"v":1.16},{"s":"−z","d":0.19,"v":1.2},{"s":"−z","d":0.22,"v":1.2},{"s":"−z","d":0.26,"v":1.18},{"s":"−z","d":0.3,"v":1.15},{"s":"−z","d":0.35,"v":1.12},{"s":"−z","d":0.4,"v":1.05},{"s":"−z","d":0.45,"v":1.0},{"s":"−z","d":0.5,"v":1.0},{"s":"−z","d":0.544,"v":0.99},{"s":"−z","d":0.7,"v":0.99},{"s":"−z","d":0.9,"v":0.99},{"s":"−z","d":0.99,"v":0.99},{"s":"−z","d":0.997,"v":0.22},{"s":"−z","d":1.004,"v":0.99},{"s":"−z","d":4,"v":0.98},
{"s":"+z","d":0.01,"v":-0.36},{"s":"+z","d":0.0112,"v":-0.34},{"s":"+z","d":0.0131,"v":-0.13},{"s":"+z","d":0.0153,"v":0.02},{"s":"+z","d":0.0185,"v":0.24},{"s":"+z","d":0.0212,"v":0.4},{"s":"+z","d":0.0243,"v":0.58},{"s":"+z","d":0.0289,"v":0.82},{"s":"+z","d":0.0331,"v":0.9},{"s":"+z","d":0.037,"v":0.95},{"s":"+z","d":0.042,"v":1.0},{"s":"+z","d":0.046,"v":1.1},{"s":"+z","d":0.0515,"v":1.19},{"s":"+z","d":0.0552,"v":1.19},{"s":"+z","d":0.06,"v":1.12},{"s":"+z","d":0.068,"v":1.03},{"s":"+z","d":0.08,"v":1.0},{"s":"+z","d":0.09,"v":1.0},{"s":"+z","d":0.1,"v":1.0},{"s":"+z","d":0.117,"v":1.02},{"s":"+z","d":0.134,"v":0.93},{"s":"+z","d":0.15,"v":0.98},{"s":"+z","d":0.17,"v":1.05},{"s":"+z","d":0.19,"v":1.05},{"s":"+z","d":0.21,"v":1.02},{"s":"+z","d":0.225,"v":1.04},{"s":"+z","d":0.25,"v":1.0},{"s":"+z","d":0.27,"v":0.95},{"s":"+z","d":0.305,"v":0.905},{"s":"+z","d":0.35,"v":0.9},{"s":"+z","d":0.42,"v":0.9},{"s":"+z","d":0.45,"v":0.98},{"s":"+z","d":0.5,"v":1.0},{"s":"+z","d":0.544,"v":1.0},{"s":"+z","d":0.6,"v":1.02},{"s":"+z","d":0.8,"v":1.01},{"s":"+z","d":0.965,"v":1.01},{"s":"+z","d":0.972,"v":0.31},{"s":"+z","d":0.979,"v":1.0},{"s":"+z","d":1.5,"v":0.98},{"s":"+z","d":4,"v":0.98},
{"s":"−x","d":0.01,"v":-0.3},{"s":"−x","d":0.0112,"v":-0.27},{"s":"−x","d":0.0131,"v":-0.12},{"s":"−x","d":0.0153,"v":-0.01},{"s":"−x","d":0.0185,"v":0.2},{"s":"−x","d":0.0198,"v":0.3},{"s":"−x","d":0.0212,"v":0.38},{"s":"−x","d":0.0246,"v":0.58},{"s":"−x","d":0.0298,"v":0.8},{"s":"−x","d":0.0371,"v":1.0},{"s":"−x","d":0.042,"v":1.12},{"s":"−x","d":0.0462,"v":1.05},{"s":"−x","d":0.0515,"v":1.27},{"s":"−x","d":0.0552,"v":1.32},{"s":"−x","d":0.059,"v":1.25},{"s":"−x","d":0.0677,"v":1.03},{"s":"−x","d":0.0798,"v":1.08},{"s":"−x","d":0.0866,"v":1.16},{"s":"−x","d":0.0966,"v":1.12},{"s":"−x","d":0.117,"v":1.12},{"s":"−x","d":0.134,"v":1.16},{"s":"−x","d":0.1537,"v":1.16},{"s":"−x","d":0.1668,"v":1.27},{"s":"−x","d":0.181,"v":1.23},{"s":"−x","d":0.1965,"v":1.14},{"s":"−x","d":0.2253,"v":1.23},{"s":"−x","d":0.2445,"v":1.23},{"s":"−x","d":0.2655,"v":1.16},{"s":"−x","d":0.296,"v":1.12},{"s":"−x","d":0.3214,"v":1.0},{"s":"−x","d":0.3585,"v":1.05},{"s":"−x","d":0.411,"v":0.96},{"s":"−x","d":0.4585,"v":0.98},{"s":"−x","d":0.5114,"v":0.98},{"s":"−x","d":0.543,"v":0.99},{"s":"−x","d":0.6,"v":0.99},{"s":"−x","d":0.7,"v":0.98},{"s":"−x","d":0.8,"v":0.99},{"s":"−x","d":0.9,"v":0.99},{"s":"−x","d":0.99,"v":1.0},{"s":"−x","d":0.995,"v":0.49},{"s":"−x","d":1.002,"v":1.0},{"s":"−x","d":1.5,"v":0.98},{"s":"−x","d":4,"v":0.98},
{"s":"+x","d":0.01,"v":-0.32},{"s":"+x","d":0.0112,"v":-0.3},{"s":"+x","d":0.0131,"v":-0.15},{"s":"+x","d":0.0153,"v":-0.03},{"s":"+x","d":0.0185,"v":0.15},{"s":"+x","d":0.021,"v":0.28},{"s":"+x","d":0.0243,"v":0.34},{"s":"+x","d":0.0289,"v":0.6},{"s":"+x","d":0.0331,"v":0.76},{"s":"+x","d":0.037,"v":0.86},{"s":"+x","d":0.042,"v":0.92},{"s":"+x","d":0.05,"v":0.96},{"s":"+x","d":0.06,"v":0.99},{"s":"+x","d":0.07,"v":1.0},{"s":"+x","d":0.08,"v":1.02},{"s":"+x","d":0.09,"v":1.1},{"s":"+x","d":0.1,"v":1.1},{"s":"+x","d":0.11,"v":1.05},{"s":"+x","d":0.13,"v":1.08},{"s":"+x","d":0.15,"v":1.1},{"s":"+x","d":0.17,"v":1.12},{"s":"+x","d":0.2,"v":1.05},{"s":"+x","d":0.22,"v":0.98},{"s":"+x","d":0.25,"v":1.02},{"s":"+x","d":0.28,"v":1.05},{"s":"+x","d":0.32,"v":1.02},{"s":"+x","d":0.36,"v":1.03},{"s":"+x","d":0.4,"v":1.0},{"s":"+x","d":0.45,"v":1.0},{"s":"+x","d":0.5,"v":1.0},{"s":"+x","d":0.544,"v":1.0},{"s":"+x","d":0.7,"v":1.0},{"s":"+x","d":0.9,"v":0.99},{"s":"+x","d":0.96,"v":1.0},{"s":"+x","d":0.967,"v":0.6},{"s":"+x","d":0.974,"v":1.0},{"s":"+x","d":1.5,"v":1.01},{"s":"+x","d":2,"v":1.02},{"s":"+x","d":3,"v":1.02},{"s":"+x","d":4,"v":1.03},
{"s":"−y","d":0.01,"v":-0.3},{"s":"−y","d":0.0112,"v":-0.28},{"s":"−y","d":0.0131,"v":-0.15},{"s":"−y","d":0.0153,"v":-0.03},{"s":"−y","d":0.0185,"v":0.17},{"s":"−y","d":0.0212,"v":0.33},{"s":"−y","d":0.0243,"v":0.5},{"s":"−y","d":0.0289,"v":0.75},{"s":"−y","d":0.0331,"v":0.87},{"s":"−y","d":0.037,"v":0.92},{"s":"−y","d":0.042,"v":0.96},{"s":"−y","d":0.05,"v":0.98},{"s":"−y","d":0.06,"v":1.0},{"s":"−y","d":0.07,"v":1.02},{"s":"−y","d":0.08,"v":1.05},{"s":"−y","d":0.1,"v":1.08},{"s":"−y","d":0.12,"v":1.08},{"s":"−y","d":0.15,"v":1.1},{"s":"−y","d":0.18,"v":1.12},{"s":"−y","d":0.2,"v":1.14},{"s":"−y","d":0.23,"v":1.16},{"s":"−y","d":0.25,"v":1.12},{"s":"−y","d":0.28,"v":1.1},{"s":"−y","d":0.3,"v":1.08},{"s":"−y","d":0.35,"v":1.05},{"s":"−y","d":0.4,"v":1.02},{"s":"−y","d":0.45,"v":1.0},{"s":"−y","d":0.5,"v":0.99},{"s":"−y","d":0.535,"v":0.96},{"s":"−y","d":0.542,"v":0.06},{"s":"−y","d":0.548,"v":0.97},{"s":"−y","d":1,"v":0.975},{"s":"−y","d":2,"v":0.975},{"s":"−y","d":4,"v":0.975},
{"s":"+y","d":0.01,"v":-0.34},{"s":"+y","d":0.0112,"v":-0.33},{"s":"+y","d":0.0131,"v":-0.18},{"s":"+y","d":0.0153,"v":-0.06},{"s":"+y","d":0.0185,"v":0.15},{"s":"+y","d":0.0212,"v":0.3},{"s":"+y","d":0.0243,"v":0.48},{"s":"+y","d":0.0289,"v":0.72},{"s":"+y","d":0.0331,"v":0.82},{"s":"+y","d":0.037,"v":0.88},{"s":"+y","d":0.042,"v":0.92},{"s":"+y","d":0.05,"v":0.96},{"s":"+y","d":0.055,"v":0.97},{"s":"+y","d":0.06,"v":0.96},{"s":"+y","d":0.07,"v":1.0},{"s":"+y","d":0.08,"v":0.95},{"s":"+y","d":0.09,"v":1.0},{"s":"+y","d":0.1,"v":0.96},{"s":"+y","d":0.11,"v":0.96},{"s":"+y","d":0.12,"v":0.98},{"s":"+y","d":0.13,"v":1.02},{"s":"+y","d":0.15,"v":1.06},{"s":"+y","d":0.17,"v":1.08},{"s":"+y","d":0.2,"v":1.1},{"s":"+y","d":0.228,"v":1.14},{"s":"+y","d":0.251,"v":1.19},{"s":"+y","d":0.282,"v":1.23},{"s":"+y","d":0.305,"v":1.18},{"s":"+y","d":0.336,"v":1.14},{"s":"+y","d":0.3845,"v":1.14},{"s":"+y","d":0.4316,"v":1.12},{"s":"+y","d":0.494,"v":1.05},{"s":"+y","d":0.544,"v":1.03},{"s":"+y","d":0.599,"v":1.085},{"s":"+y","d":0.66,"v":1.1},{"s":"+y","d":0.727,"v":1.12},{"s":"+y","d":0.8006,"v":1.1},{"s":"+y","d":0.8487,"v":1.14},{"s":"+y","d":0.917,"v":1.1},{"s":"+y","d":0.99,"v":1.12},{"s":"+y","d":1.07,"v":1.1},{"s":"+y","d":1.134,"v":1.1},{"s":"+y","d":1.178,"v":1.05},{"s":"+y","d":1.249,"v":0.96},{"s":"+y","d":1.298,"v":1.0},{"s":"+y","d":1.402,"v":1.1},{"s":"+y","d":1.457,"v":1.1},{"s":"+y","d":1.574,"v":1.05},{"s":"+y","d":1.669,"v":1.05},{"s":"+y","d":1.767,"v":1.1},{"s":"+y","d":1.82,"v":1.19},{"s":"+y","d":1.873,"v":1.14},{"s":"+y","d":1.91,"v":1.23},{"s":"+y","d":1.947,"v":1.14},{"s":"+y","d":2.023,"v":1.0},{"s":"+y","d":2.103,"v":1.1},{"s":"+y","d":2.186,"v":1.05},{"s":"+y","d":2.316,"v":0.98},{"s":"+y","d":2.455,"v":1.03},{"s":"+y","d":2.551,"v":1.1},{"s":"+y","d":2.703,"v":1.08},{"s":"+y","d":2.864,"v":1.14},{"s":"+y","d":2.977,"v":1.19},{"s":"+y","d":3.094,"v":1.1},{"s":"+y","d":3.28,"v":1.01},{"s":"+y","d":3.474,"v":1.03},{"s":"+y","d":3.612,"v":1.19},{"s":"+y","d":3.753,"v":1.14},{"s":"+y","d":3.901,"v":1.12},{"s":"+y","d":3.977,"v":1.14}
]
},
"spacing":15,
"resolve":{"scale":{"color":"independent"}},
"vconcat":[
{"spacing":16.5,"resolve":{"scale":{"color":"independent"}},"vconcat":[
{"width":1034,"height":367,
"title":{"text":"Ṁ = 0\u2003[πRₐ²ρ∞u∞]","fontSize":50,"anchor":"middle","frame":"group","offset":8},
"layer":[
{"data":{"name":"A"},"mark":{"type":"line","strokeWidth":4,"clip":true},
"encoding":{
"x":{"field":"d","type":"quantitative","scale":{"type":"log","domain":[0.01,4],"nice":false},"axis":{"orient":"bottom","values":[0.01,0.02,0.03,0.04,0.05,0.06,0.07,0.08,0.09,0.1,0.2,0.3,0.4,0.5,0.6,0.7,0.8,0.9,1,2,3],"labels":false,"title":null,"tickSize":{"condition":{"test":"abs(log(datum.value)/LN10 - round(log(datum.value)/LN10)) < 0.001","value":-15},"value":-8},"tickWidth":{"condition":{"test":"abs(log(datum.value)/LN10 - round(log(datum.value)/LN10)) < 0.001","value":3},"value":2}}},
"y":{"field":"v","type":"quantitative","scale":{"type":"log","domain":[0.72,440],"nice":false},"axis":{"orient":"left","values":[0.8,0.9,1,2,3,4,5,6,7,8,9,10,20,30,40,50,60,70,80,90,100,200,300,400],"labelExpr":"abs(log(datum.value)/LN10 - round(log(datum.value)/LN10)) < 0.001 ? ['10⁻⁴','10⁻³','10⁻²','10⁻¹','10⁰','10¹','10²','10³','10⁴','10⁵'][round(log(datum.value)/LN10)+4] : ''","labelPadding":35,"title":"ρ(d) [ρ∞]","titlePadding":21,"minExtent":70,"maxExtent":70,"tickSize":{"condition":{"test":"abs(log(datum.value)/LN10 - round(log(datum.value)/LN10)) < 0.001","value":-15},"value":-8},"tickWidth":{"condition":{"test":"abs(log(datum.value)/LN10 - round(log(datum.value)/LN10)) < 0.001","value":3},"value":2}}},
"color":{"field":"s","type":"nominal","scale":{"domain":["−z","+z","−x","+x","−y","+y","Analytical"],"range":["#1f77b4","#ff7f0e","#2ca02c","#d62728","#9467bd","#8c564b","#111111"]},"legend":null}}},
{"data":{"values":[{"d":0.54}]},"mark":{"type":"rule","color":"black","strokeWidth":3.5,"strokeDash":[15,7]},"encoding":{"x":{"field":"d","type":"quantitative","axis":null}}},
{"data":{"values":[{"d":0.01156,"v":1.16,"t":"(a)"}]},"mark":{"type":"text","align":"left","baseline":"middle","fontSize":40,"color":"black","font":"Liberation Serif"},
"encoding":{"text":{"field":"t"},
"x":{"field":"d","type":"quantitative","axis":{"orient":"top","values":[0.01,0.02,0.03,0.04,0.05,0.06,0.07,0.08,0.09,0.1,0.2,0.3,0.4,0.5,0.6,0.7,0.8,0.9,1,2,3],"labels":false,"title":null,"tickSize":{"condition":{"test":"abs(log(datum.value)/LN10 - round(log(datum.value)/LN10)) < 0.001","value":-15},"value":-8},"tickWidth":{"condition":{"test":"abs(log(datum.value)/LN10 - round(log(datum.value)/LN10)) < 0.001","value":3},"value":2}}},
"y":{"field":"v","type":"quantitative","axis":{"orient":"right","values":[0.8,0.9,1,2,3,4,5,6,7,8,9,10,20,30,40,50,60,70,80,90,100,200,300,400],"labels":false,"title":null,"tickSize":{"condition":{"test":"abs(log(datum.value)/LN10 - round(log(datum.value)/LN10)) < 0.001","value":-15},"value":-8},"tickWidth":{"condition":{"test":"abs(log(datum.value)/LN10 - round(log(datum.value)/LN10)) < 0.001","value":3},"value":2}}}}}
],
"resolve":{"axis":{"x":"independent","y":"independent"}}},
{"width":1034,"height":364,
"layer":[
{"data":{"name":"B"},"mark":{"type":"line","strokeWidth":4,"clip":true},
"encoding":{
"x":{"field":"d","type":"quantitative","scale":{"type":"log","domain":[0.01,4],"nice":false},"axis":{"orient":"bottom","values":[0.01,0.02,0.03,0.04,0.05,0.06,0.07,0.08,0.09,0.1,0.2,0.3,0.4,0.5,0.6,0.7,0.8,0.9,1,2,3],"labels":false,"title":null,"tickSize":{"condition":{"test":"abs(log(datum.value)/LN10 - round(log(datum.value)/LN10)) < 0.001","value":-15},"value":-8},"tickWidth":{"condition":{"test":"abs(log(datum.value)/LN10 - round(log(datum.value)/LN10)) < 0.001","value":3},"value":2}}},
"y":{"field":"v","type":"quantitative","scale":{"type":"log","domain":[0.62,180000],"nice":false},"axis":{"orient":"left","values":[0.7,0.8,0.9,1,2,3,4,5,6,7,8,9,10,20,30,40,50,60,70,80,90,100,200,300,400,500,600,700,800,900,1000,2000,3000,4000,5000,6000,7000,8000,9000,10000,20000,30000,40000,50000,60000,70000,80000,90000,100000],"labelExpr":"abs(log(datum.value)/LN10 - round(log(datum.value)/LN10)) < 0.001 ? ['10⁻⁴','10⁻³','10⁻²','10⁻¹','10⁰','10¹','10²','10³','10⁴','10⁵'][round(log(datum.value)/LN10)+4] : ''","labelPadding":35,"title":"P(d) [P∞]","titlePadding":21,"minExtent":70,"maxExtent":70,"tickSize":{"condition":{"test":"abs(log(datum.value)/LN10 - round(log(datum.value)/LN10)) < 0.001","value":-15},"value":-8},"tickWidth":{"condition":{"test":"abs(log(datum.value)/LN10 - round(log(datum.value)/LN10)) < 0.001","value":3},"value":2}}},
"color":{"field":"s","type":"nominal","scale":{"domain":["−z","+z","−x","+x","−y","+y","Analytical"],"range":["#1f77b4","#ff7f0e","#2ca02c","#d62728","#9467bd","#8c564b","#111111"]},"legend":null}}},
{"data":{"values":[{"d":0.54}]},"mark":{"type":"rule","color":"black","strokeWidth":3.5,"strokeDash":[15,7]},"encoding":{"x":{"field":"d","type":"quantitative","axis":null}}},
{"data":{"values":[{"d":0.01156,"v":1.2,"t":"(b)"}]},"mark":{"type":"text","align":"left","baseline":"middle","fontSize":40,"color":"black","font":"Liberation Serif"},
"encoding":{"text":{"field":"t"},
"x":{"field":"d","type":"quantitative","axis":{"orient":"top","values":[0.01,0.02,0.03,0.04,0.05,0.06,0.07,0.08,0.09,0.1,0.2,0.3,0.4,0.5,0.6,0.7,0.8,0.9,1,2,3],"labels":false,"title":null,"tickSize":{"condition":{"test":"abs(log(datum.value)/LN10 - round(log(datum.value)/LN10)) < 0.001","value":-15},"value":-8},"tickWidth":{"condition":{"test":"abs(log(datum.value)/LN10 - round(log(datum.value)/LN10)) < 0.001","value":3},"value":2}}},
"y":{"field":"v","type":"quantitative","axis":{"orient":"right","values":[0.7,0.8,0.9,1,2,3,4,5,6,7,8,9,10,20,30,40,50,60,70,80,90,100,200,300,400,500,600,700,800,900,1000,2000,3000,4000,5000,6000,7000,8000,9000,10000,20000,30000,40000,50000,60000,70000,80000,90000,100000],"labels":false,"title":null,"tickSize":{"condition":{"test":"abs(log(datum.value)/LN10 - round(log(datum.value)/LN10)) < 0.001","value":-15},"value":-8},"tickWidth":{"condition":{"test":"abs(log(datum.value)/LN10 - round(log(datum.value)/LN10)) < 0.001","value":3},"value":2}}}}}
],
"resolve":{"axis":{"x":"independent","y":"independent"}}}
]},
{"spacing":24,"resolve":{"scale":{"color":"independent"}},"vconcat":[
{"width":1034,"height":372,
"layer":[
{"data":{"name":"C"},"mark":{"type":"line","strokeWidth":4,"clip":true},
"encoding":{
"x":{"field":"d","type":"quantitative","scale":{"type":"log","domain":[0.01,4],"nice":false},"axis":{"orient":"bottom","values":[0.01,0.02,0.03,0.04,0.05,0.06,0.07,0.08,0.09,0.1,0.2,0.3,0.4,0.5,0.6,0.7,0.8,0.9,1,2,3],"labels":false,"title":null,"tickSize":{"condition":{"test":"abs(log(datum.value)/LN10 - round(log(datum.value)/LN10)) < 0.001","value":-15},"value":-8},"tickWidth":{"condition":{"test":"abs(log(datum.value)/LN10 - round(log(datum.value)/LN10)) < 0.001","value":3},"value":2}}},
"y":{"field":"v","type":"quantitative","scale":{"type":"log","domain":[0.0001,1],"nice":false},"axis":{"orient":"left","values":[0.0001,0.0002,0.0003,0.0004,0.0005,0.0006,0.0007,0.0008,0.0009,0.001,0.002,0.003,0.004,0.005,0.006,0.007,0.008,0.009,0.01,0.02,0.03,0.04,0.05,0.06,0.07,0.08,0.09,0.1,0.2,0.3,0.4,0.5,0.6,0.7,0.8,0.9,1],"labelExpr":"abs(log(datum.value)/LN10 - round(log(datum.value)/LN10)) < 0.001 ? ['10⁻⁴','10⁻³','10⁻²','10⁻¹','10⁰','10¹','10²','10³','10⁴','10⁵'][round(log(datum.value)/LN10)+4] : ''","labelPadding":35,"title":"Rₕₛₑ","titlePadding":21,"minExtent":70,"maxExtent":70,"tickSize":{"condition":{"test":"abs(log(datum.value)/LN10 - round(log(datum.value)/LN10)) < 0.001","value":-15},"value":-8},"tickWidth":{"condition":{"test":"abs(log(datum.value)/LN10 - round(log(datum.value)/LN10)) < 0.001","value":3},"value":2}}},
"color":{"field":"s","type":"nominal","scale":{"domain":["−z","+z","−x","+x","−y","+y","Analytical"],"range":["#1f77b4","#ff7f0e","#2ca02c","#d62728","#9467bd","#8c564b","#111111"]},"legend":null}}},
{"data":{"values":[{"d":0.54}]},"mark":{"type":"rule","color":"black","strokeWidth":3.5,"strokeDash":[15,7]},"encoding":{"x":{"field":"d","type":"quantitative","axis":null}}},
{"data":{"values":[{"d":0.01156,"v":0.00021,"t":"(c)"}]},"mark":{"type":"text","align":"left","baseline":"middle","fontSize":40,"color":"black","font":"Liberation Serif"},
"encoding":{"text":{"field":"t"},
"x":{"field":"d","type":"quantitative","axis":{"orient":"top","values":[0.01,0.02,0.03,0.04,0.05,0.06,0.07,0.08,0.09,0.1,0.2,0.3,0.4,0.5,0.6,0.7,0.8,0.9,1,2,3],"labels":false,"title":null,"tickSize":{"condition":{"test":"abs(log(datum.value)/LN10 - round(log(datum.value)/LN10)) < 0.001","value":-15},"value":-8},"tickWidth":{"condition":{"test":"abs(log(datum.value)/LN10 - round(log(datum.value)/LN10)) < 0.001","value":3},"value":2}}},
"y":{"field":"v","type":"quantitative","axis":{"orient":"right","values":[0.0001,0.0002,0.0003,0.0004,0.0005,0.0006,0.0007,0.0008,0.0009,0.001,0.002,0.003,0.004,0.005,0.006,0.007,0.008,0.009,0.01,0.02,0.03,0.04,0.05,0.06,0.07,0.08,0.09,0.1,0.2,0.3,0.4,0.5,0.6,0.7,0.8,0.9,1],"labels":false,"title":null,"tickSize":{"condition":{"test":"abs(log(datum.value)/LN10 - round(log(datum.value)/LN10)) < 0.001","value":-15},"value":-8},"tickWidth":{"condition":{"test":"abs(log(datum.value)/LN10 - round(log(datum.value)/LN10)) < 0.001","value":3},"value":2}}}}}
],
"resolve":{"axis":{"x":"independent","y":"independent"}}},
{"width":1034,"height":370,
"layer":[
{"data":{"name":"D"},"mark":{"type":"line","strokeWidth":4,"clip":true},
"encoding":{
"x":{"field":"d","type":"quantitative","scale":{"type":"log","domain":[0.01,4],"nice":false},"axis":{"orient":"bottom","values":[0.01,0.02,0.03,0.04,0.05,0.06,0.07,0.08,0.09,0.1,0.2,0.3,0.4,0.5,0.6,0.7,0.8,0.9,1,2,3],"labelExpr":"abs(log(datum.value)/LN10 - round(log(datum.value)/LN10)) < 0.001 ? ['10⁻⁴','10⁻³','10⁻²','10⁻¹','10⁰','10¹','10²','10³','10⁴','10⁵'][round(log(datum.value)/LN10)+4] : ''","labelPadding":44,"title":"d [Rₐ]","titlePadding":-6,"tickSize":{"condition":{"test":"abs(log(datum.value)/LN10 - round(log(datum.value)/LN10)) < 0.001","value":-15},"value":-8},"tickWidth":{"condition":{"test":"abs(log(datum.value)/LN10 - round(log(datum.value)/LN10)) < 0.001","value":3},"value":2}}},
"y":{"field":"v","type":"quantitative","scale":{"domain":[-2,2],"nice":false,"zero":false},"axis":{"orient":"left","values":[-2,-1.8,-1.6,-1.4,-1.2,-1,-0.8,-0.6,-0.4,-0.2,0,0.2,0.4,0.6,0.8,1,1.2,1.4,1.6,1.8,2],"labelExpr":"abs(datum.value - round(datum.value)) < 0.001 ? replace(format(datum.value, 'd'), '-', '−') : ''","labelPadding":35,"title":"ℬ [u∞²/2]","titlePadding":21,"minExtent":70,"maxExtent":70,"tickSize":{"condition":{"test":"abs(datum.value - round(datum.value)) < 0.001","value":-15},"value":-8},"tickWidth":{"condition":{"test":"abs(datum.value - round(datum.value)) < 0.001","value":3},"value":2}}},
"color":{"field":"s","type":"nominal","scale":{"domain":["+y","−y","+x","−x","+z","−z","Analytical"],"range":["#8c564b","#9467bd","#d62728","#2ca02c","#ff7f0e","#1f77b4","#444444"]},
"legend":{"orient":"none","legendX":153,"legendY":162,"columns":2,"title":null,"symbolType":"M-4,0H4","symbolSize":462,"symbolStrokeWidth":5,"labelFontSize":46,"labelLimit":400,"labelOffset":37,"columnPadding":20,"rowPadding":0,"padding":0,"labelColor":"black","labelFont":"Liberation Serif","encode":{"labels":{"update":{"fontStyle":{"signal":"datum.label === 'Analytical' ? 'normal' : 'italic'"}}}}}}}},
{"data":{"values":[{"d":0.54}]},"mark":{"type":"rule","color":"black","strokeWidth":3.5,"strokeDash":[15,7]},"encoding":{"x":{"field":"d","type":"quantitative","axis":null}}},
{"data":{"values":[{"d":0.01156,"v":-1.708,"t":"(d)"}]},"mark":{"type":"text","align":"left","baseline":"middle","fontSize":40,"color":"black","font":"Liberation Serif"},
"encoding":{"text":{"field":"t"},
"x":{"field":"d","type":"quantitative","axis":{"orient":"top","values":[0.01,0.02,0.03,0.04,0.05,0.06,0.07,0.08,0.09,0.1,0.2,0.3,0.4,0.5,0.6,0.7,0.8,0.9,1,2,3],"labels":false,"title":null,"tickSize":{"condition":{"test":"abs(log(datum.value)/LN10 - round(log(datum.value)/LN10)) < 0.001","value":-15},"value":-8},"tickWidth":{"condition":{"test":"abs(log(datum.value)/LN10 - round(log(datum.value)/LN10)) < 0.001","value":3},"value":2}}},
"y":{"field":"v","type":"quantitative","axis":{"orient":"right","values":[-2,-1.8,-1.6,-1.4,-1.2,-1,-0.8,-0.6,-0.4,-0.2,0,0.2,0.4,0.6,0.8,1,1.2,1.4,1.6,1.8,2],"labels":false,"title":null,"tickSize":{"condition":{"test":"abs(datum.value - round(datum.value)) < 0.001","value":-15},"value":-8},"tickWidth":{"condition":{"test":"abs(datum.value - round(datum.value)) < 0.001","value":3},"value":2}}}}}
],
"resolve":{"axis":{"x":"independent","y":"independent"}}}
]}
]
}
